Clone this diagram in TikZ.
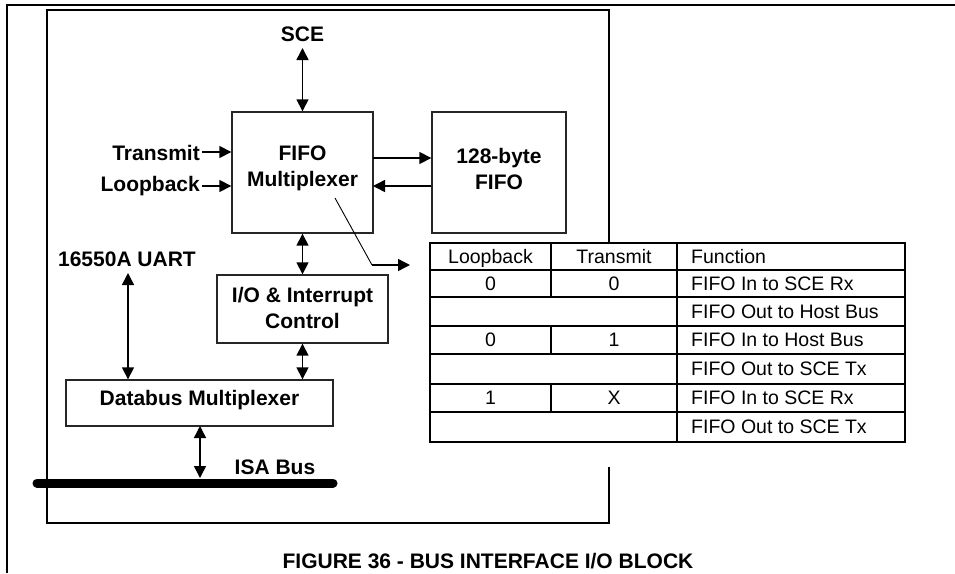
\documentclass[tikz,border=0pt]{standalone}
\usepackage{fontspec}
\setmainfont{Liberation Sans}
\usetikzlibrary{arrows.meta}
\begin{document}
\begin{tikzpicture}[x=1pt,y=-1pt,
  lbl/.style={font=\fontsize{21}{26}\selectfont\bfseries, inner sep=0pt, align=center},
  blk/.style={draw=black!85, line width=1.4pt, inner sep=0pt},
  tt/.style={font=\fontsize{19.5}{22}\selectfont, inner sep=0pt, text height=14pt, text depth=4pt},
  arr/.style={line width=1.5pt, -{Triangle[length=12pt,width=12pt]}},
  darr/.style={line width=1.5pt, {Triangle[length=12pt,width=12pt]}-{Triangle[length=12pt,width=12pt]}},
  frm/.style={line width=2pt},
  grd/.style={line width=2pt}
]
\useasboundingbox (0,0) rectangle (955,573);

% outer page frame
\draw[frm] (955,5) -- (7,5) -- (7,573);
% inner frame
\draw[frm] (609,242) -- (609,10) -- (47,10) -- (47,523) -- (609,523) -- (609,467);

% blocks
\node[blk, minimum width=141pt, minimum height=121pt] (fmux) at (302.5,172.5) {};
\node[lbl] (fmuxt) at (302.5,168) {FIFO\\Multiplexer};
\node[blk, minimum width=134pt, minimum height=121pt] (fifo) at (499,172.5) {};
\node[lbl] (fifot) at (499,169) {128-byte\\FIFO};
\node[blk, minimum width=171pt, minimum height=68pt] (io) at (302.5,309) {};
\node[lbl] (iot) at (302.5,307.5) {I/O \& Interrupt\\Control};
\node[blk, minimum width=267pt, minimum height=46pt] (db) at (199.5,403) {};
\node[lbl] (dbt) at (199.5,400) {Databus Multiplexer};

% labels
\node[lbl] (sce) at (302.5,34) {SCE};
\node[lbl, anchor=east] (tx) at (200,153) {Transmit};
\node[lbl, anchor=east] (lb) at (200,186) {Loopback};
\node[lbl] (uart) at (127,259) {16550A UART};
\node[lbl] (isa) at (275,467) {ISA Bus};
\node[lbl] (cap) at (488,561) {FIGURE 36 - BUS INTERFACE I/O BLOCK};

% bus
\coordinate (busl) at (37,483);
\coordinate (busr) at (333,483);
\draw[line width=9pt, line cap=round] (busl) -- (busr);
\coordinate (busa) at (200,478);

% connectors
\draw[darr] (302.5,48) coordinate (sceb) -- (fmux.north);
\draw[arr] ([xshift=2pt]tx.east |- 0,152) coordinate (txa) -- (txa -| fmux.west);
\draw[arr] ([xshift=2pt]lb.east |- 0,186) coordinate (lba) -- (lba -| fmux.west);
\coordinate (m1) at (373,158);
\coordinate (m2) at (373,186);
\draw[arr] (m1) -- (m1 -| fifo.west);
\draw[arr] (m2 -| fifo.west) -- (m2);
\draw[darr] (fmux.south) -- (io.north);
\draw[darr] (io.south) -- (io.south |- db.north);
\draw[darr] (128,273) coordinate (uarta) -- (uarta |- db.north);
\draw[darr] (200,426) coordinate (dba) -- (busa);

% diagonal pointer to table
\coordinate (d0) at (335,198);
\coordinate (d1) at (372,265);
\coordinate (d2) at (410,265);
\draw[line width=0.9pt] (d0) -- (d1);
\draw[arr] (d1) -- (d2);

% table
\draw[grd] (430,243) rectangle (905,442);
\foreach \yy in {270,297,326,354,384,412} \draw[grd] (430,\yy) -- (905,\yy);
\draw[grd] (677,243) -- (677,442);
\draw[grd] (551,243) -- (551,297);
\draw[grd] (551,326) -- (551,354);
\draw[grd] (551,384) -- (551,412);

\node[tt] (h1) at (490.5,258) {Loopback};
\node[tt] (h2) at (614,258) {Transmit};
\node[tt, anchor=west] (h3) at (691,258) {Function};
\node[tt] (a1) at (490.5,285) {0};
\node[tt] (a2) at (614,285) {0};
\node[tt, anchor=west] (a3) at (691,285) {FIFO In to SCE Rx};
\node[tt, anchor=west] (b3) at (691,313) {FIFO Out to Host Bus};
\node[tt] (c1) at (490.5,341.5) {0};
\node[tt] (c2) at (614,341.5) {1};
\node[tt, anchor=west] (c3) at (691,341.5) {FIFO In to Host Bus};
\node[tt, anchor=west] (d3) at (691,370.5) {FIFO Out to SCE Tx};
\node[tt] (e1) at (490.5,399.5) {1};
\node[tt] (e2) at (614,399.5) {X};
\node[tt, anchor=west] (e3) at (691,399.5) {FIFO In to SCE Rx};
\node[tt, anchor=west] (f3) at (691,428.5) {FIFO Out to SCE Tx};
\end{tikzpicture}
\end{document}
